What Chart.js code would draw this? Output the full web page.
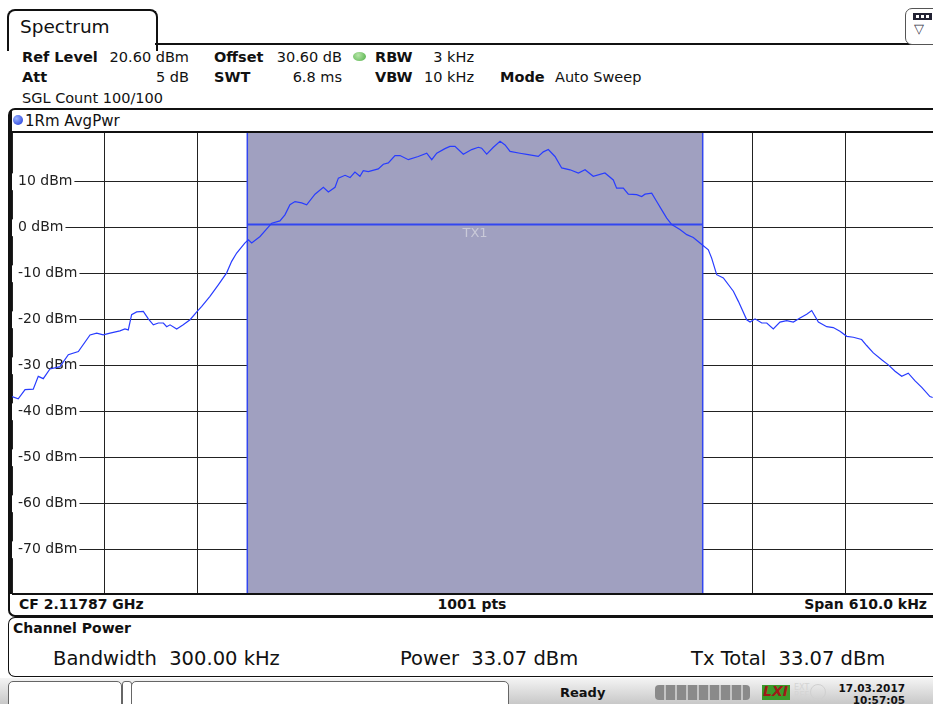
<!DOCTYPE html>
<html>
<head>
<meta charset="utf-8">
<script src="https://cdn.jsdelivr.net/npm/chart.js@4.4.1/dist/chart.umd.min.js"></script>
<style>
  html, body { margin: 0; padding: 0; background: #fff; width: 933px; height: 704px; overflow: hidden; }
  body { position: relative; font-family: "DejaVu Sans", Verdana, sans-serif; color: #111; }
  .abs { position: absolute; white-space: nowrap; }
  .b { font-weight: bold; }
  .hdr { font-size: 14.5px; line-height: 16px; }
  .r { transform: translateX(-100%); }
</style>
</head>
<body>
<!-- tab + header -->
<div class="abs" style="left:7px;top:9px;width:147px;height:40px;border:2px solid #111;border-bottom:none;border-radius:8px 8px 0 0;background:#fff;"></div>
<div class="abs" style="left:20px;top:16px;font-size:18.5px;line-height:22px;">Spectrum</div>
<div class="abs" style="left:155px;top:43px;width:780px;height:2px;background:#111;"></div>
<div class="abs" style="left:905px;top:8px;width:36px;height:35px;border:1.5px solid #555;border-radius:7px;background:#fff;"></div>
<div class="abs" style="left:913px;top:13px;width:19px;height:7px;background:#223;"></div>
<div class="abs" style="left:916px;top:15px;width:3px;height:3px;background:#fff;"></div>
<div class="abs" style="left:921px;top:15px;width:3px;height:3px;background:#fff;"></div>
<div class="abs" style="left:926px;top:15px;width:3px;height:3px;background:#fff;"></div>
<div class="abs" style="left:914px;top:21px;font-size:13px;color:#334;">▽</div>

<div class="abs hdr b" style="left:22px;top:49px;">Ref Level</div>
<div class="abs hdr r" style="left:189px;top:49px;">20.60 dBm</div>
<div class="abs hdr b" style="left:214px;top:49px;">Offset</div>
<div class="abs hdr r" style="left:342px;top:49px;">30.60 dB</div>
<div class="abs" style="left:353px;top:52px;width:13px;height:9px;border-radius:50%;background:radial-gradient(circle at 40% 35%, #b6e6a8, #4fae45);"></div>
<div class="abs hdr b" style="left:375px;top:49px;">RBW</div>
<div class="abs hdr r" style="left:474px;top:49px;">3 kHz</div>
<div class="abs hdr b" style="left:22px;top:69px;">Att</div>
<div class="abs hdr r" style="left:189px;top:69px;">5 dB</div>
<div class="abs hdr b" style="left:214px;top:69px;">SWT</div>
<div class="abs hdr r" style="left:342px;top:69px;">6.8 ms</div>
<div class="abs hdr b" style="left:375px;top:69px;">VBW</div>
<div class="abs hdr r" style="left:474px;top:69px;">10 kHz</div>
<div class="abs hdr b" style="left:500px;top:69px;">Mode</div>
<div class="abs hdr" style="left:555px;top:69px;">Auto Sweep</div>
<div class="abs hdr" style="left:22px;top:90px;">SGL Count 100/100</div>

<!-- trace window frame -->
<div class="abs" style="left:8px;top:108px;width:940px;height:505px;border:2px solid #111;border-right:none;border-radius:7px 0 0 7px;"></div>
<div class="abs" style="left:10px;top:110px;width:2px;height:484px;background:#111;"></div>
<div class="abs" style="left:13px;top:115px;width:10px;height:10px;border-radius:50%;background:radial-gradient(circle at 35% 35%, #9bb4ff, #1530d8);"></div>
<div class="abs" style="left:25px;top:112px;font-size:15px;line-height:18px;">1Rm AvgPwr</div>
<div class="abs" style="left:12px;top:131px;width:930px;height:2px;background:#111;"></div>
<div class="abs" style="left:12px;top:133px;width:926px;height:460px;">
  <canvas id="spec"></canvas>
</div>
<div class="abs" style="left:12px;top:593px;width:930px;height:1.5px;background:#111;"></div>
<div class="abs b" style="left:19px;top:596px;font-size:14px;line-height:17px;">CF 2.11787 GHz</div>
<div class="abs b" style="left:472px;top:596px;font-size:14px;line-height:17px;transform:translateX(-50%);">1001 pts</div>
<div class="abs b r" style="left:927px;top:596px;font-size:14px;line-height:17px;">Span 610.0 kHz</div>

<!-- channel power result -->
<div class="abs" style="left:8px;top:617px;width:940px;height:58px;border:1.5px solid #111;border-right:none;border-radius:7px 0 0 7px;"></div>
<div class="abs b" style="left:13px;top:620px;font-size:14px;line-height:17px;">Channel Power</div>
<div class="abs" style="left:53px;top:647px;font-size:19.5px;line-height:23px;">Bandwidth&nbsp; 300.00 kHz</div>
<div class="abs" style="left:400px;top:647px;font-size:19.5px;line-height:23px;">Power&nbsp; 33.07 dBm</div>
<div class="abs" style="left:691px;top:647px;font-size:19.5px;line-height:23px;">Tx Total&nbsp; 33.07 dBm</div>

<!-- status bar -->
<div class="abs" style="left:0;top:678px;width:933px;height:26px;background:linear-gradient(#f4f4f4,#c8c8c8);"></div>
<div class="abs" style="left:8px;top:681px;width:112px;height:30px;border:1px solid #666;border-radius:5px;background:#fff;"></div>
<div class="abs" style="left:122px;top:681px;width:8px;height:30px;border:1px solid #666;border-radius:3px;background:#fff;"></div>
<div class="abs" style="left:131px;top:681px;width:376px;height:30px;border:1px solid #666;border-radius:5px;background:#fff;"></div>
<div class="abs b" style="left:560px;top:685px;font-size:13px;line-height:16px;">Ready</div>
<div class="abs" style="left:655px;top:685px;width:95px;height:15px;border-radius:4px;background:repeating-linear-gradient(90deg,#8a8a8a 0 9px,#c4c4c4 9px 11px);"></div>
<div class="abs" style="left:762px;top:685px;width:28px;height:15px;background:#3a9a2a;"></div>
<div class="abs b" style="left:763px;top:683px;font-size:14px;line-height:17px;font-style:italic;color:#a01818;">LXI</div>
<div class="abs" style="left:794px;top:684px;font-size:8px;line-height:8px;color:#d4d4d4;">EXT<br>REF</div>
<div class="abs" style="left:810px;top:684px;width:14px;height:14px;border:1.5px solid #d0d0d0;border-radius:50%;"></div>
<div class="abs b r" style="left:905px;top:682px;font-size:10.5px;line-height:12px;">17.03.2017</div>
<div class="abs b r" style="left:905px;top:694px;font-size:10.5px;line-height:12px;">10:57:05</div>

<script>
// trace "1Rm AvgPwr": frequency offset from CF (kHz) and level (dBm)
const freqKHz = [-305, -300.9, -296.4, -291.0, -287.7, -284.4, -280.0, -273.4, -267.9, -261.3,
  -253.6, -249.2, -244.9, -240.4, -233.9, -230.6, -228.4, -226.2, -222.9, -218.5,
  -215.2, -211.9, -208.6, -205.3, -203.1, -200.9, -196.5, -192.2, -187.7, -183.3,
  -180.0, -174.6, -169.1, -163.6, -160.3, -157.0, -151.5, -149.3, -147.1, -141.6,
  -133.9, -128.5, -125.2, -121.9, -118.6, -114.2, -110.9, -105.4, -99.9, -96.6,
  -92.2, -90.0, -85.6, -82.3, -79.1, -75.8, -73.6, -70.3, -63.7, -60.4,
  -57.1, -52.7, -49.4, -43.9, -37.4, -31.8, -28.5, -25.2, -19.8, -16.5,
  -13.2, -7.7, -2.2, 2.2, 4.4, 7.7, 12.1, 16.5, 19.8, 23.1,
  29.6, 35.1, 41.7, 45.0, 48.3, 52.7, 57.1, 62.6, 68.1, 72.5,
  77.9, 85.6, 91.1, 93.3, 97.7, 101.0, 106.5, 109.8, 112.0, 116.4,
  119.7, 123.0, 126.3, 129.6, 135.0, 139.5, 143.8, 148.2, 153.7, 155.9,
  159.2, 163.6, 170.2, 173.5, 179.0, 181.2, 184.5, 188.9, 192.2, 196.5,
  200.9, 205.3, 209.7, 214.1, 218.5, 221.8, 226.2, 231.7, 236.0, 240.4,
  244.9, 249.2, 254.7, 258.0, 262.4, 267.9, 272.3, 276.7, 281.1, 285.4,
  289.9, 294.3, 299.7, 301.5];
const levelDbm = [-36.7, -37.2, -35.2, -35.1, -32.3, -32.8, -30.7, -30.2, -27.6, -26.9,
  -23.3, -22.9, -23.3, -22.9, -22.4, -22.0, -22.2, -18.9, -18.3, -18.2,
  -19.8, -21.1, -20.7, -20.7, -21.5, -21.1, -22.0, -21.1, -20.0, -18.3,
  -17.1, -14.9, -12.4, -9.8, -7.3, -5.5, -3.3, -2.6, -3.3, -1.9,
  1.0, 1.5, 2.8, 5.0, 5.7, 5.4, 5.0, 7.3, 8.8, 7.8,
  8.8, 10.8, 11.4, 10.9, 12.1, 11.2, 12.4, 12.2, 12.8, 13.8,
  14.1, 15.7, 15.7, 14.8, 15.5, 16.2, 14.8, 16.2, 17.2, 17.7,
  17.7, 16.0, 17.0, 17.5, 17.3, 16.0, 17.5, 18.8, 18.0, 16.6,
  16.2, 15.9, 15.5, 16.5, 17.0, 15.5, 13.0, 12.6, 11.9, 12.6,
  11.2, 11.9, 10.4, 8.6, 8.6, 7.3, 7.2, 6.8, 7.3, 7.5,
  5.7, 3.9, 2.1, 0.7, -0.4, -1.5, -2.1, -3.3, -4.8, -6.6,
  -10.2, -10.9, -13.8, -16.0, -20.0, -20.5, -19.8, -20.7, -20.7, -22.0,
  -20.5, -20.2, -20.5, -19.6, -18.8, -18.0, -20.5, -21.5, -21.7, -22.5,
  -23.6, -23.8, -24.3, -25.6, -27.2, -28.7, -29.8, -31.2, -32.3, -31.6,
  -33.3, -34.7, -36.7, -36.9];

const spanKHz = [-305, 305];          // 610 kHz span
const levelRange = [-79.4, 20.6];     // ref level 20.60 dBm, 100 dB range
const xGridKHz = [-305, -244, -183, -122, -61, 0, 61, 122, 183, 244, 305];
const yTickDbm = [10, 0, -10, -20, -30, -40, -50, -60, -70];
const channelKHz = [-150, 150];       // TX1, 300 kHz bandwidth
const tx1Dbm = 0.7;

const traceBlue = 'rgb(40,60,255)';
const edgeBlue = 'rgb(50,70,240)';

// scales take no room, the plot fills the whole canvas
const noRoom = s => {
  s.paddingTop = 0; s.paddingBottom = 0; s.paddingLeft = 0; s.paddingRight = 0;
  if (s.isHorizontal()) s.height = 0; else s.width = 0;
};

const tx1Label = {
  id: 'tx1Label',
  afterDatasetsDraw(chart) {
    const c = chart.ctx;
    const x = chart.scales.x.getPixelForValue((channelKHz[0] + channelKHz[1]) / 2);
    const y = chart.scales.y.getPixelForValue(tx1Dbm);
    c.save();
    c.font = '13px "DejaVu Sans"';
    c.fillStyle = '#c9c9d8';
    c.textAlign = 'center';
    c.textBaseline = 'top';
    c.fillText('TX1', x, y + 3);
    c.restore();
  }
};

const ctx = document.getElementById('spec').getContext('2d');
const chart = new Chart(ctx, {
  type: 'line',
  data: {
    datasets: [
      { label: '1Rm AvgPwr', data: freqKHz.map((f, i) => ({ x: f, y: levelDbm[i] })),
        borderColor: traceBlue, borderWidth: 1.2, pointRadius: 0, fill: false, order: 0 },
      { label: 'TX1', data: channelKHz.map(f => ({ x: f, y: tx1Dbm })),
        borderColor: edgeBlue, borderWidth: 2, pointRadius: 0, fill: false, order: 1 },
      { label: 'edge left', data: levelRange.map(v => ({ x: channelKHz[0], y: v })),
        borderColor: edgeBlue, borderWidth: 1.5, pointRadius: 0, fill: false, order: 2 },
      { label: 'edge right', data: levelRange.map(v => ({ x: channelKHz[1], y: v })),
        borderColor: edgeBlue, borderWidth: 1.5, pointRadius: 0, fill: false, order: 3 },
      { label: 'channel', data: channelKHz.map(f => ({ x: f, y: levelRange[1] })),
        borderWidth: 0, borderColor: 'rgba(0,0,0,0)', backgroundColor: 'rgb(160,160,192)',
        pointRadius: 0, fill: 'start', order: 9 }
    ]
  },
  options: {
    animation: false,
    responsive: true,
    maintainAspectRatio: false,
    layout: { padding: 0, autoPadding: false },
    plugins: { legend: { display: false }, tooltip: { enabled: false } },
    scales: {
      x: {
        type: 'linear', min: spanKHz[0], max: spanKHz[1],
        afterBuildTicks: s => { s.ticks = xGridKHz.map(v => ({ value: v })); },
        afterFit: noRoom,
        ticks: { display: false },
        grid: { color: '#222', lineWidth: 1, drawTicks: false },
        border: { display: false }
      },
      y: {
        type: 'linear', min: levelRange[0], max: levelRange[1],
        afterBuildTicks: s => { s.ticks = yTickDbm.map(v => ({ value: v })); },
        afterFit: noRoom,
        ticks: {
          mirror: true, padding: 6, color: '#222',
          font: { family: 'DejaVu Sans', size: 14 },
          callback: v => v + ' dBm',
          showLabelBackdrop: true, backdropColor: '#fff',
          backdropPadding: { top: 0, bottom: 0, left: 6, right: 2 }
        },
        grid: { color: '#222', lineWidth: 1, drawTicks: false },
        border: { display: false }
      }
    }
  },
  plugins: [tx1Label]
});
</script>
</body>
</html>
